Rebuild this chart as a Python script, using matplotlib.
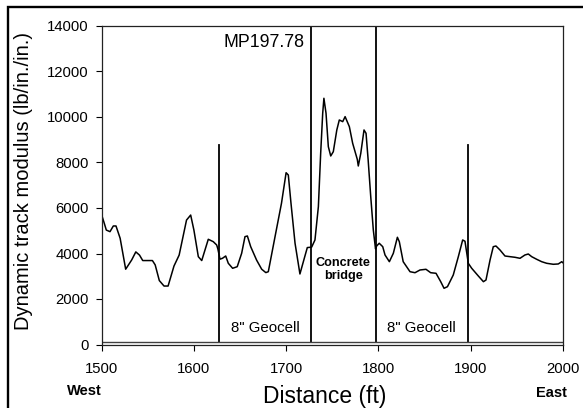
import matplotlib
matplotlib.use("Agg")
import matplotlib.pyplot as plt
from matplotlib.patches import Rectangle

plt.rcParams['font.family'] = ['Liberation Sans', 'DejaVu Sans']

distance = [1500, 1503, 1505, 1509, 1512.6, 1515.5, 1520, 1526, 1532.5, 1537, 1541, 1544.5, 1555, 1558,
            1562.5, 1567.6, 1572, 1578.4, 1584, 1592, 1596.5, 1600, 1604.8, 1608.5, 1615.6, 1621, 1624.7,
            1626, 1628.3, 1631, 1634.5, 1637.3, 1642, 1647, 1651.8, 1655.4, 1658, 1661.6, 1668, 1673.5,
            1678, 1680.7, 1688, 1695, 1700, 1702.4, 1705.3, 1709.7, 1715, 1720.5, 1723, 1727.7, 1731.3,
            1735, 1737.5, 1739.7, 1741, 1743.3, 1745.8, 1748.4, 1751.2, 1755, 1757.7, 1761.4, 1764, 1768.6,
            1772.2, 1777.2, 1778.3, 1781, 1784.5, 1786.7, 1789, 1791.8, 1794.6, 1797, 1798.2, 1801, 1804.8,
            1807.3, 1812, 1816.3, 1820.7, 1822.8, 1827, 1834.4, 1839.8, 1845.2, 1851.7, 1856.8, 1862.6,
            1867.7, 1871.3, 1875, 1881.3, 1886.8, 1891.5, 1894, 1896, 1897.6, 1901.3, 1908.5, 1914, 1916.8,
            1921.2, 1924.7, 1927.6, 1932, 1937.4, 1943, 1948.3, 1953.7, 1959, 1962.7, 1966.4, 1971.8,
            1977.2, 1982.6, 1989.8, 1995.2, 1999, 2000]
modulus = [5690, 5300, 5030, 4960, 5210, 5210, 4670, 3310, 3715, 4070, 3930, 3690, 3690, 3500,
           2810, 2570, 2570, 3450, 3930, 5470, 5690, 5030, 3860, 3690, 4625, 4520, 4374,
           4200, 3750, 3790, 3890, 3570, 3350, 3420, 4010, 4740, 4770, 4300, 3710, 3310,
           3160, 3200, 4740, 6210, 7550, 7450, 6210, 4450, 3100, 3900, 4260, 4280, 4594,
           6058, 8405, 10164, 10823, 10164, 8697, 8287, 8476, 9430, 9869, 9796, 10016, 9576,
           8843, 8140, 7847, 8405, 9430, 9284, 8111, 6500, 5030, 4200, 4330, 4450, 4300,
           3934, 3640, 4009, 4713, 4519, 3640, 3200, 3156, 3275, 3306, 3156, 3130,
           2761, 2471, 2541, 3055, 3860, 4594, 4540, 4009, 3570, 3350, 3011, 2761, 2835,
           3714, 4299, 4330, 4154, 3890, 3860, 3833, 3789, 3934, 3978, 3860, 3745,
           3640, 3570, 3526, 3540, 3640, 3600]

boundary_x = [1627, 1727, 1798, 1897]
boundary_top = [8750, 14000, 14000, 8750]
base_line = 130
x_ticks = [1500, 1600, 1700, 1800, 1900, 2000]
y_ticks = [0, 2000, 4000, 6000, 8000, 10000, 12000, 14000]

W, H = 583, 408
fig = plt.figure(figsize=(W / 100, H / 100), dpi=100)
ax = fig.add_axes([101.7 / W, 1 - 344.5 / H, (562.7 - 101.7) / W, (344.5 - 26) / H])

ax.plot(distance, modulus, color='black', lw=1.1)
for bx, bt in zip(boundary_x, boundary_top):
    ax.plot([bx, bx], [base_line, bt], color='black', lw=1.3)
ax.axhline(base_line, color='#404040', lw=1.0)

ax.set_xlim(1500, 2000)
ax.set_ylim(0, 14000)
ax.set_xticks(x_ticks)
ax.set_yticks(y_ticks)
ax.tick_params(axis='both', direction='out', length=4, width=0.8, labelsize=10.7, colors='black')
ax.tick_params(axis='x', pad=8.5)
ax.tick_params(axis='y', pad=5.3)
for s in ax.spines.values():
    s.set_linewidth(0.9)
    s.set_color('#222222')

ax.set_ylabel('Dynamic track modulus (lb/in./in.)', fontsize=14.5)
ax.yaxis.label.set_verticalalignment('center')
ax.yaxis.set_label_coords((24 - 101.7) / 461, 0.512)

ax.text(1727 - 7.5, 13270, 'MP197.78', ha='right', va='center', fontsize=12.8)
ax.text(1677, 740, '8" Geocell', ha='center', va='center', fontsize=10.8)
ax.text(1847, 740, '8" Geocell', ha='center', va='center', fontsize=10.8)
ax.text(1762, 3310, 'Concrete\nbridge', ha='center', va='center', fontsize=9.1,
        fontweight='bold', linespacing=1.15)

def fx(px):
    return px / W

def fy(py):
    return 1 - py / H

fig.text(fx(325), fy(396.5), 'Distance (ft)', ha='center', va='center', fontsize=16.5)
fig.text(fx(84.7), fy(390.7), 'West', ha='center', va='center', fontsize=10.5, fontweight='bold')
fig.text(fx(551.7), fy(393.3), 'East', ha='center', va='center', fontsize=10.5, fontweight='bold')

fig.patches.append(Rectangle((fx(7.8), -0.1), 1.2, fy(6.8) + 0.1, transform=fig.transFigure,
                             fill=False, edgecolor='black', lw=1.7))

fig.savefig('out.png', dpi=100)
